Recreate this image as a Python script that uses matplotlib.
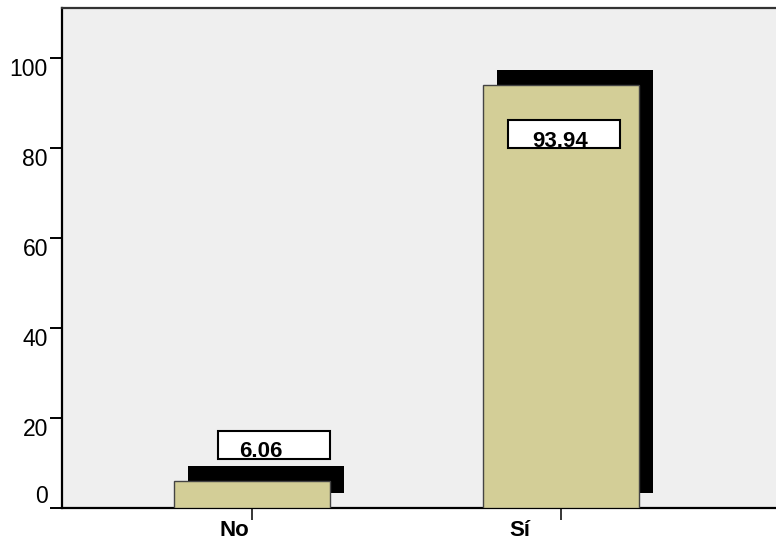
import matplotlib
matplotlib.use("Agg")
import matplotlib.pyplot as plt
from matplotlib.patches import Rectangle
from matplotlib.transforms import ScaledTranslation

plt.rcParams['font.family'] = ['Liberation Sans', 'DejaVu Sans']

categories = ["No", "Sí"]
percent = [6.06, 93.94]
y_ticks = [0, 20, 40, 60, 80, 100]

# layout tweaks (pixels at 100 dpi)
label_box_dx = [-34, -53]     # left edge of value box relative to bar centre
label_text_dx = [9, -1]       # value text centre relative to bar centre
xtick_dx = [-18, -41]         # category label shift

fig = plt.figure(figsize=(7.76, 5.44), dpi=100)
ax = fig.add_axes([62 / 776, 36 / 544, 714 / 776, 500 / 544])
ax.set_facecolor("#efefef")

x = list(range(len(categories)))
px_x = 309.0            # pixels per category unit
px_y = 4.5              # pixels per percent
ax.set_xlim(-190 / px_x, 1 + 215 / px_x)
ax.set_ylim(0, 500 / px_y)

# drop shadow
shadow = ax.bar(x, percent, width=0.508, color="black", edgecolor="none", zorder=2)
off = ScaledTranslation(0.14, 0.15, fig.dpi_scale_trans)
for p in shadow:
    p.set_transform(ax.transData + off)

bars = ax.bar(x, percent, width=0.508, color="#d3ce97", edgecolor="#444444",
              linewidth=1.0, zorder=3)

# value labels in white boxes
box_w = 112 / px_x
box_h = 28 / px_y
for i, v in enumerate(percent):
    y0 = v - 14 if v > 50 else v + 4.9
    ax.add_patch(Rectangle((x[i] + label_box_dx[i] / px_x, y0), box_w, box_h,
                           facecolor="white", edgecolor="black", linewidth=1.5,
                           zorder=4))
    ax.text(x[i] + label_text_dx[i] / px_x, y0 + 0.3, f"{v:.2f}", ha="center",
            va="baseline", fontsize=16, fontweight="bold", zorder=5)

ax.set_yticks(y_ticks)
ax.set_yticklabels([str(t) for t in y_ticks], fontsize=16.5)
for lab in ax.get_yticklabels():
    lab.set_va("bottom" if lab.get_text() == "0" else "top")
ax.tick_params(axis="y", direction="out", length=8.6, width=1.4, pad=1.5,
               colors="black")

ax.set_xticks(x)
ax.set_xticklabels(categories, fontsize=16, fontweight="bold")
ax.tick_params(axis="x", direction="out", length=8.6, width=1.1, pad=0)
for i, lab in enumerate(ax.get_xticklabels()):
    lab.set_transform(lab.get_transform() +
                      ScaledTranslation(xtick_dx[i] / 100, 0, fig.dpi_scale_trans))

ax.spines["right"].set_visible(False)
ax.spines["left"].set_linewidth(1.6)
ax.spines["bottom"].set_linewidth(1.6)
ax.spines["top"].set_linewidth(1.6)
ax.spines["top"].set_color("#333333")

fig.savefig("out.png", dpi=100)
